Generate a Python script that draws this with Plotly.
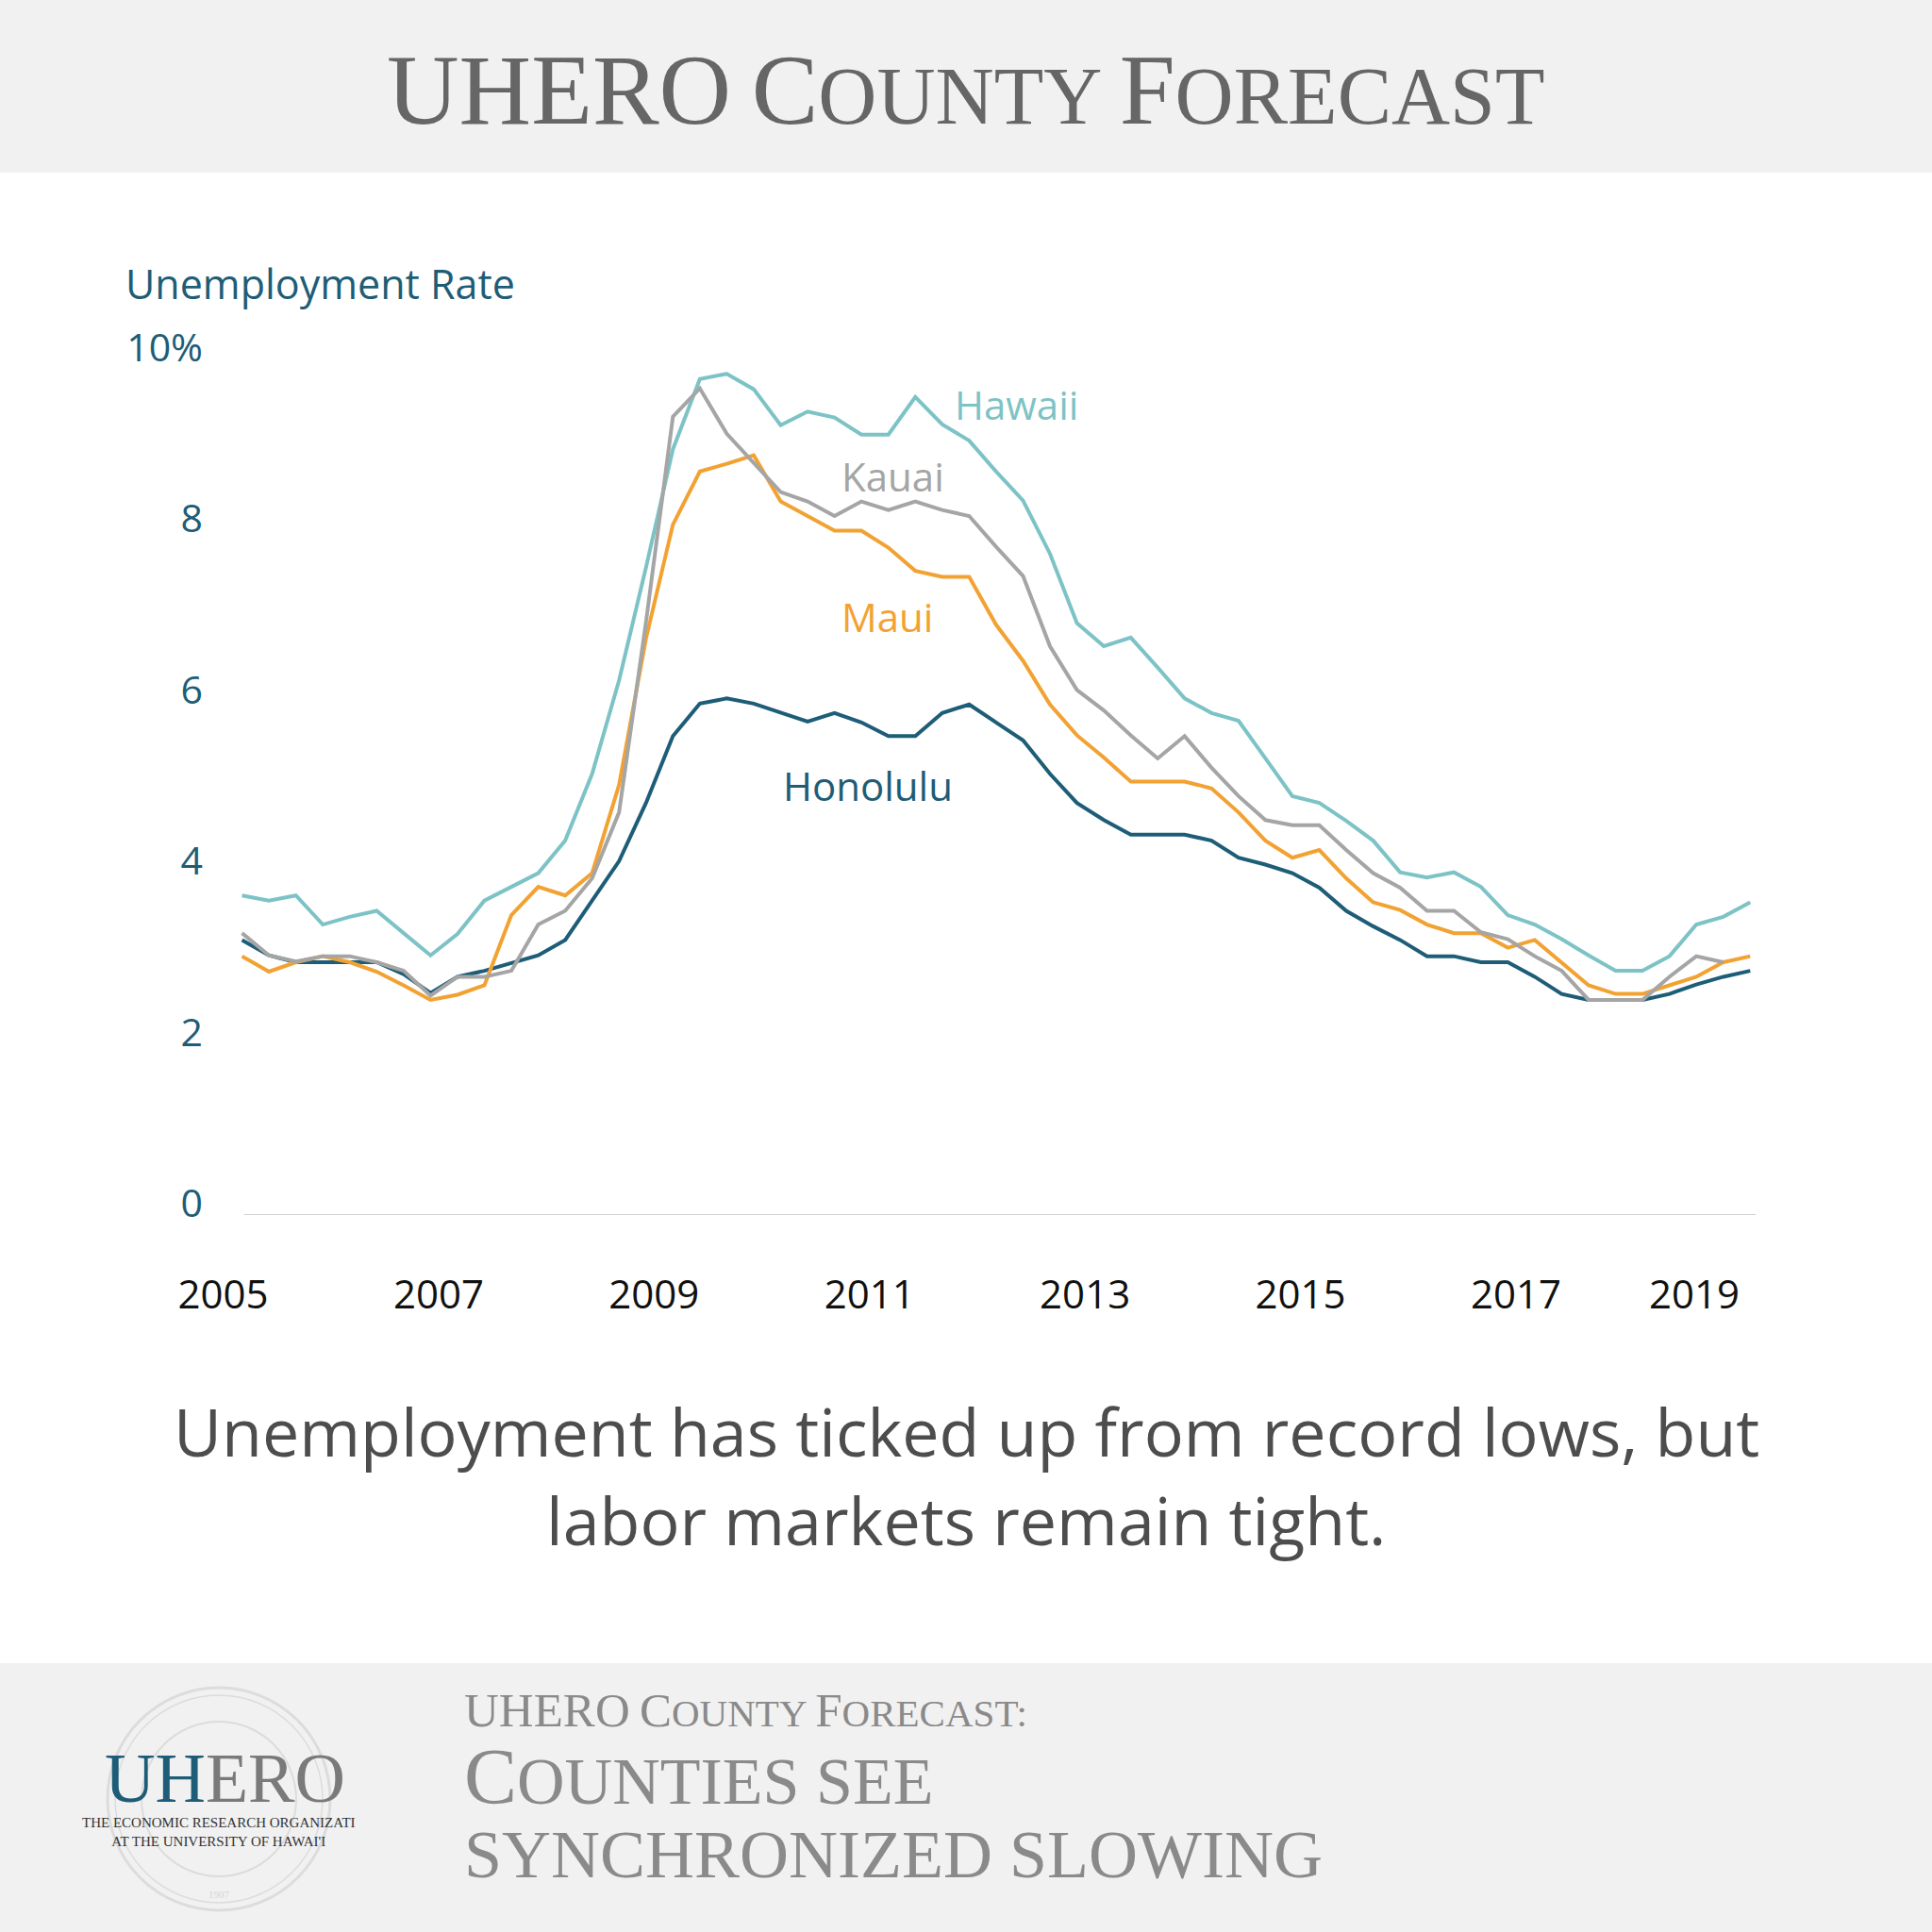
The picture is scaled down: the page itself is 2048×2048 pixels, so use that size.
import plotly.graph_objects as go

# ---------------- data (quarterly, 2005Q1 - 2019Q1) ----------------
quarters = [f"{y}Q{q}" for y in range(2005, 2020) for q in range(1, 5)][:57]

hawaii = [3.60, 3.54, 3.60, 3.26, 3.35, 3.42, 3.16, 2.90, 3.15, 3.54,
          3.70, 3.86, 4.24, 5.02, 6.11, 7.43, 8.81, 9.63, 9.69, 9.51,
          9.09, 9.25, 9.18, 8.98, 8.98, 9.42, 9.10, 8.91, 8.55, 8.21,
          7.59, 6.78, 6.51, 6.61, 6.26, 5.90, 5.73, 5.64, 5.20, 4.76,
          4.68, 4.47, 4.24, 3.87, 3.81, 3.87, 3.70, 3.37, 3.26, 3.09,
          2.90, 2.72, 2.72, 2.89, 3.26, 3.35, 3.52]

kauai = [3.16, 2.90, 2.83, 2.89, 2.89, 2.82, 2.72, 2.43, 2.65, 2.65,
         2.72, 3.26, 3.42, 3.80, 4.57, 6.79, 9.19, 9.52, 8.99, 8.65,
         8.31, 8.20, 8.03, 8.20, 8.10, 8.20, 8.10, 8.03, 7.67, 7.33,
         6.51, 6.00, 5.76, 5.47, 5.20, 5.46, 5.09, 4.76, 4.48, 4.42,
         4.42, 4.13, 3.86, 3.69, 3.42, 3.42, 3.17, 3.09, 2.89, 2.72,
         2.38, 2.38, 2.38, 2.65, 2.89, 2.82, None]

maui = [2.89, 2.71, 2.82, 2.89, 2.82, 2.71, 2.55, 2.38, 2.44, 2.55,
        3.37, 3.70, 3.60, 3.86, 4.89, 6.60, 7.93, 8.55, 8.64, 8.74,
        8.20, 8.03, 7.86, 7.86, 7.66, 7.39, 7.32, 7.32, 6.76, 6.34,
        5.83, 5.47, 5.21, 4.93, 4.93, 4.93, 4.85, 4.57, 4.24, 4.04,
        4.13, 3.80, 3.52, 3.43, 3.26, 3.16, 3.16, 2.99, 3.08, 2.82,
        2.55, 2.45, 2.45, 2.55, 2.65, 2.82, 2.89]

honolulu = [3.08, 2.90, 2.82, 2.82, 2.82, 2.82, 2.68, 2.46, 2.65, 2.72,
            2.81, 2.90, 3.08, 3.54, 4.00, 4.68, 5.46, 5.84, 5.90, 5.84,
            5.73, 5.63, 5.73, 5.62, 5.46, 5.46, 5.73, 5.83, 5.62, 5.41,
            5.02, 4.68, 4.48, 4.31, 4.31, 4.31, 4.24, 4.04, 3.96, 3.86,
            3.69, 3.42, 3.24, 3.08, 2.89, 2.89, 2.82, 2.82, 2.65, 2.45,
            2.38, 2.38, 2.38, 2.45, 2.56, 2.65, 2.72]

x_tick_labels = ["2005", "2007", "2009", "2011", "2013", "2015", "2017", "2019"]
y_tick_values = [0, 2, 4, 6, 8, 10]
y_tick_labels = ["0", "2", "4", "6", "8", "10%"]

# ---------------- helpers ----------------
x_vals = [int(q[:4]) + (int(q[-1]) - 1) / 4 for q in quarters]

W = H = 2048
ML, MR, MT, MB = 228, 187, 350, 760
PW, PH = W - ML - MR, H - MT - MB
Y_MIN, Y_MAX = -0.132, 10.2


def px(xp, yp):
    return (xp - ML) / PW, (H - MB - yp) / PH


def smallcaps(text, big, small):
    out = []
    for ch in text:
        if ch.isupper():
            out.append(f'<span style="font-size:{big}px">{ch}</span>')
        else:
            out.append(f'<span style="font-size:{small}px">{ch.upper()}</span>')
    return "".join(out)


C_HAW = "#7dc3c6"
C_KAU = "#a5a5a5"
C_MAU = "#f2a232"
C_HON = "#1e5d77"

fig = go.Figure()
for name, ys, col in [("Honolulu", honolulu, C_HON), ("Maui", maui, C_MAU),
                      ("Hawaii", hawaii, C_HAW), ("Kauai", kauai, C_KAU)]:
    fig.add_trace(go.Scatter(x=x_vals, y=ys, mode="lines", name=name,
                             line=dict(color=col, width=4),
                             cliponaxis=False, hoverinfo="skip"))

# tick positions (labels sit slightly left of each year's first quarter)
x_tick_pos = [int(t) - 0.175 for t in x_tick_labels]
x_tick_pos[-1] = int(x_tick_labels[-1]) - 0.52

annotations = []
# series labels
for name, xv, yv, col in [("Hawaii", 2012.19, 9.34, C_HAW),
                          ("Kauai", 2011.04, 8.50, C_KAU),
                          ("Maui", 2010.99, 6.86, C_MAU),
                          ("Honolulu", 2010.81, 4.88, C_HON)]:
    annotations.append(dict(x=xv, y=yv, xref="x", yref="y", text=name,
                            showarrow=False, xanchor="center", yanchor="middle",
                            font=dict(family="Open Sans", size=42, color=col)))

# axis title
ax, ay = px(131, 300)
annotations.append(dict(x=ax, y=ay, xref="paper", yref="paper",
                        text="Unemployment Rate", showarrow=False,
                        xanchor="left", yanchor="middle",
                        font=dict(family="Open Sans", size=43, color=C_HON)))

# header title
tx, ty = px(1024, 95)
annotations.append(dict(x=tx, y=ty, xref="paper", yref="paper",
                        text=smallcaps("UHERO County Forecast", 106, 86),
                        showarrow=False, xanchor="center", yanchor="middle",
                        font=dict(family="Liberation Serif", size=106, color="#666666")))

# caption
for line, yp in [("Unemployment has ticked up from record lows, but", 1517),
                 ("labor markets remain tight.", 1611)]:
    cx, cy = px(1024, yp)
    annotations.append(dict(x=cx, y=cy, xref="paper", yref="paper", text=line,
                            showarrow=False, xanchor="center", yanchor="middle",
                            font=dict(family="Open Sans", size=70, color="#4d4d4d")))

# footer text
for txt, yp, big, small in [("UHERO County Forecast:", 1813, 51, 41),
                            ("Counties see", 1883, 84, 70),
                            ("synchronized slowing", 1966, 84, 72)]:
    fx, fy = px(490, yp)
    annotations.append(dict(x=fx, y=fy, xref="paper", yref="paper",
                            text=smallcaps(txt, big, small), showarrow=False,
                            xanchor="left", yanchor="middle",
                            font=dict(family="Liberation Serif", size=big, color="#8a8a8a")))

# logo text
lx, ly = px(238, 1885)
annotations.append(dict(x=lx, y=ly, xref="paper", yref="paper",
                        text=f'<span style="color:{C_HON}">UH</span>ERO',
                        showarrow=False, xanchor="center", yanchor="middle",
                        font=dict(family="Liberation Serif", size=74, color="#7a7a7a")))
sx, sy = px(232, 1942)
annotations.append(dict(x=sx, y=sy, xref="paper", yref="paper",
                        text="THE ECONOMIC RESEARCH ORGANIZATI<br>AT THE UNIVERSITY OF HAWAI'I",
                        showarrow=False, xanchor="center", yanchor="middle",
                        font=dict(family="Liberation Serif", size=15, color="#333333")))
sx, sy = px(232, 2008)
annotations.append(dict(x=sx, y=sy, xref="paper", yref="paper", text="1907",
                        showarrow=False, xanchor="center", yanchor="middle",
                        font=dict(family="Liberation Serif", size=11, color="#d4d4d4")))

shapes = []
# header / footer bands
for y0p, y1p in [(0, 183), (1763, 2048)]:
    x0, y0 = px(0, y1p)
    x1, y1 = px(W, y0p)
    shapes.append(dict(type="rect", xref="paper", yref="paper", x0=x0, x1=x1,
                       y0=y0, y1=y1, fillcolor="#f1f1f1", line=dict(width=0),
                       layer="below"))
# faint seal
for r, wdt in [(118, 3), (110, 1.5), (82, 2)]:
    x0, y0 = px(232 - r, 1907 + r)
    x1, y1 = px(232 + r, 1907 - r)
    shapes.append(dict(type="circle", xref="paper", yref="paper", x0=x0, x1=x1,
                       y0=y0, y1=y1, line=dict(color="#dcdcdc", width=wdt),
                       layer="below"))
# baseline of the chart
shapes.append(dict(type="line", xref="x", yref="y", x0=2005.02, x1=2019.05,
                   y0=Y_MIN, y1=Y_MIN, line=dict(color="#d0d0d0", width=2),
                   layer="below"))

fig.update_layout(
    width=W, height=H,
    margin=dict(l=ML, r=MR, t=MT, b=MB),
    paper_bgcolor="white", plot_bgcolor="white",
    showlegend=False,
    annotations=annotations, shapes=shapes,
    xaxis=dict(range=[2004.75, 2019.05], showgrid=False, zeroline=False,
               showline=False,
               tickmode="array", tickvals=x_tick_pos, ticktext=x_tick_labels,
               ticks="", ticklabelstandoff=56,
               tickfont=dict(family="Open Sans", size=42, color="#111111")),
    yaxis=dict(range=[Y_MIN, Y_MAX], showgrid=False, zeroline=False,
               showline=False, tickmode="array", tickvals=y_tick_values,
               ticktext=y_tick_labels, ticks="", ticklabelstandoff=12,
               tickfont=dict(family="Open Sans", size=41, color=C_HON)),
)

fig.write_html("out.html", config={"displayModeBar": False},
               post_script="document.body.style.margin='0px';")
